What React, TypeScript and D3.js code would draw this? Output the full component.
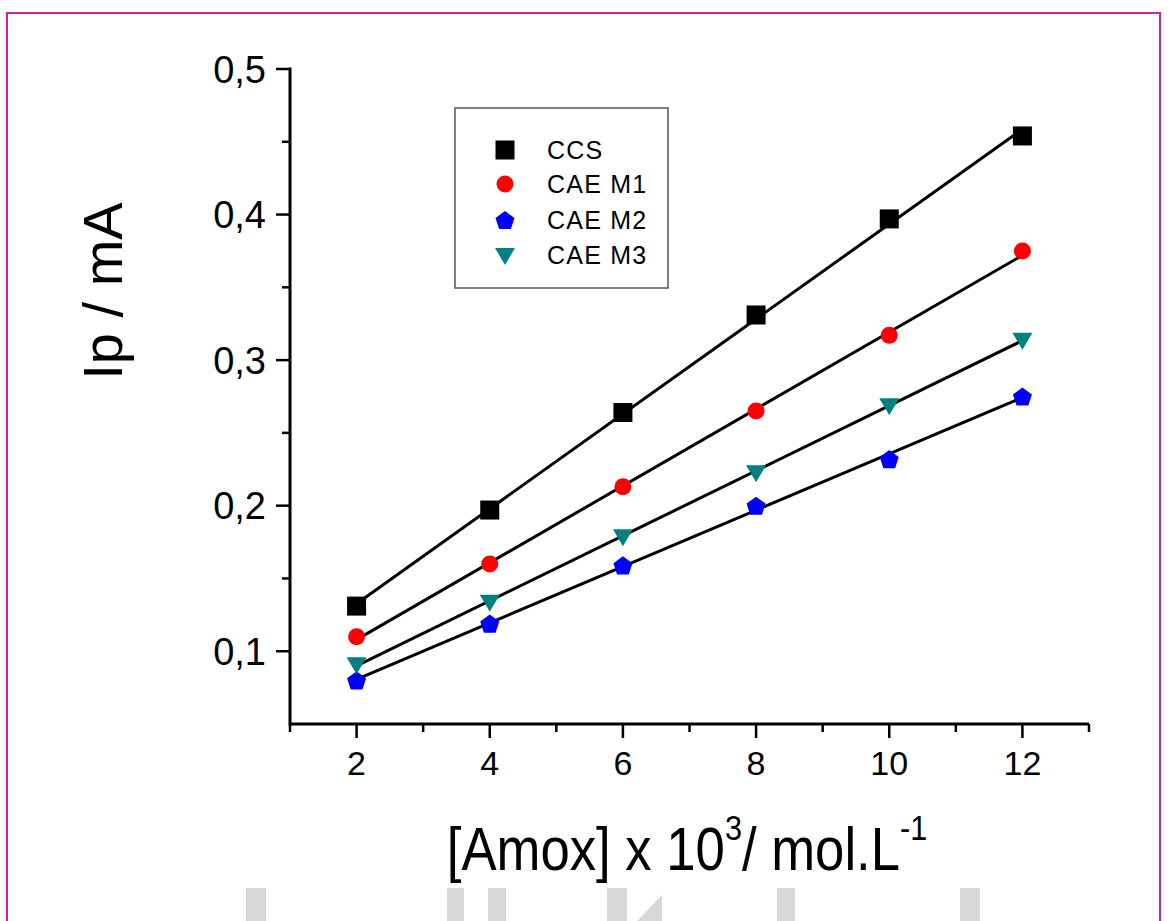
import React from "react";
import * as d3 from "d3";

const concentrations = [2, 4, 6, 8, 10, 12];
const seriesNames = ["CCS", "CAE M1", "CAE M2", "CAE M3"];
const ccsValues = [0.131, 0.197, 0.264, 0.331, 0.397, 0.454];
const m1Values = [0.110, 0.160, 0.213, 0.265, 0.317, 0.375];
const m2Values = [0.080, 0.119, 0.159, 0.200, 0.232, 0.275];
const m3Values = [0.091, 0.134, 0.179, 0.223, 0.269, 0.314];
const xTicks = [2, 4, 6, 8, 10, 12];
const xMinorTicks = [1, 3, 5, 7, 9, 11, 13];
const yTicks = [0.1, 0.2, 0.3, 0.4, 0.5];
const yMinorTicks = [0.15, 0.25, 0.35, 0.45];

const FONT = "'Liberation Sans', Arial, sans-serif";

function fit(xs: number[], ys: number[]) {
  const mx = d3.mean(xs)!;
  const my = d3.mean(ys)!;
  const sxy = d3.sum(xs.map((x, i) => (x - mx) * (ys[i] - my)));
  const sxx = d3.sum(xs.map((x) => (x - mx) * (x - mx)));
  const b = sxy / sxx;
  const a = my - b * mx;
  return (x: number) => a + b * x;
}

function pentagon(cx: number, cy: number, r: number) {
  const pts: string[] = [];
  for (let i = 0; i < 5; i++) {
    const ang = -Math.PI / 2 + (i * 2 * Math.PI) / 5;
    pts.push(`${cx + r * Math.cos(ang)},${cy + r * Math.sin(ang)}`);
  }
  return pts.join(" ");
}

function Marker({ kind, cx, cy }: { kind: number; cx: number; cy: number }) {
  if (kind === 0) return <rect x={cx - 9.5} y={cy - 9.5} width={19} height={19} fill="#000" />;
  if (kind === 1) return <circle cx={cx} cy={cy} r={8.5} fill="#ff0000" />;
  if (kind === 2) return <polygon points={pentagon(cx, cy + 1, 10)} fill="#0000ff" />;
  return (
    <polygon
      points={`${cx - 10},${cy - 7} ${cx + 10},${cy - 7} ${cx},${cy + 10}`}
      fill="#008080"
    />
  );
}

export default function App() {
  const x = d3.scaleLinear().domain([1, 13]).range([290, 1089]);
  const y = d3.scaleLinear().domain([0.05, 0.5]).range([724, 69]);
  const all = [ccsValues, m1Values, m2Values, m3Values];
  const line = d3
    .line<number>()
    .x((d) => x(d))
    .y((d) => d);

  const legendRows = [150, 184, 220, 255];

  return (
    <svg
      width={1168}
      height={921}
      style={{ position: "absolute", left: 0, top: 0, display: "block", background: "#fff" }}
      fontFamily={FONT}
    >
      <rect x={0} y={0} width={1168} height={921} fill="#fff" />
      {/* frame */}
      <rect x={7} y={13} width={1153} height={940} fill="none" stroke="#d01fa0" strokeWidth={2} />

      {/* watermark blocks */}
      <g fill="#d8d8d8">
        <rect x={246} y={888} width={20} height={40} />
        <rect x={447} y={888} width={17} height={40} />
        <rect x={488} y={888} width={18} height={40} />
        <rect x={607} y={888} width={20} height={40} />
        <polygon points="637,921 662,895 662,921" />
        <rect x={777} y={888} width={18} height={40} />
        <rect x={960} y={888} width={20} height={40} />
      </g>

      {/* fit lines */}
      {all.map((vals, k) => {
        const f = fit(concentrations, vals);
        const xs = [concentrations[0], concentrations[concentrations.length - 1]];
        return (
          <path
            key={"l" + k}
            d={d3
              .line<number>()
              .x((d) => x(d))
              .y((d) => y(f(d)))(xs) || ""}
            fill="none"
            stroke="#000"
            strokeWidth={3}
          />
        );
      })}

      {/* markers */}
      {all.map((vals, k) =>
        vals.map((v, i) => (
          <Marker key={`m${k}-${i}`} kind={k} cx={x(concentrations[i])} cy={y(v)} />
        ))
      )}

      {/* axes */}
      <g stroke="#000" strokeWidth={3} fill="none">
        <line x1={x(1)} x2={x(13)} y1={724} y2={724} />
        <line x1={290} x2={290} y1={y(0.5) - 1.5} y2={725.5} />
      </g>
      <g stroke="#000" strokeWidth={2.5}>
        {xTicks.map((t) => (
          <line key={"xt" + t} x1={x(t)} x2={x(t)} y1={724} y2={738} />
        ))}
        {xMinorTicks.map((t) => (
          <line key={"xm" + t} x1={x(t)} x2={x(t)} y1={724} y2={732} />
        ))}
        {yTicks.map((t) => (
          <line key={"yt" + t} x1={276} x2={290} y1={y(t)} y2={y(t)} />
        ))}
        {yMinorTicks.map((t) => (
          <line key={"ym" + t} x1={282} x2={290} y1={y(t)} y2={y(t)} />
        ))}
      </g>
      {xTicks.map((t) => (
        <text key={"xl" + t} x={x(t)} y={775} fontSize={34} textAnchor="middle" fill="#000">
          {t}
        </text>
      ))}
      {yTicks.map((t) => (
        <text
          key={"yl" + t}
          x={266}
          y={y(t) + 13.5}
          fontSize={38}
          textAnchor="end"
          fill="#000"
        >
          {d3.format(".1f")(t).replace(".", ",")}
        </text>
      ))}

      {/* axis titles */}
      <text
        transform="translate(122,291) rotate(-90)"
        fontSize={56}
        textAnchor="middle"
        fill="#000"
      >
        Ip / mA
      </text>
      <g transform="translate(687,870) scale(0.85,1)">
        <text textAnchor="middle" fontSize={62} fill="#000">
          <tspan>[Amox] x 10</tspan>
          <tspan dy={-30} fontSize={36}>3</tspan>
          <tspan dy={30}>/ mol.L</tspan>
          <tspan dy={-30} fontSize={36}>-1</tspan>
        </text>
      </g>

      {/* legend */}
      <rect x={455} y={108} width={213} height={180} fill="#fff" stroke="#555" strokeWidth={1.5} />
      {seriesNames.map((name, k) => (
        <g key={"lg" + k}>
          <Marker kind={k} cx={505} cy={legendRows[k]} />
          <text
            x={547}
            y={legendRows[k] + 9}
            fontSize={25}
            letterSpacing={1.2}
            fill="#000"
          >
            {name}
          </text>
        </g>
      ))}
    </svg>
  );
}
